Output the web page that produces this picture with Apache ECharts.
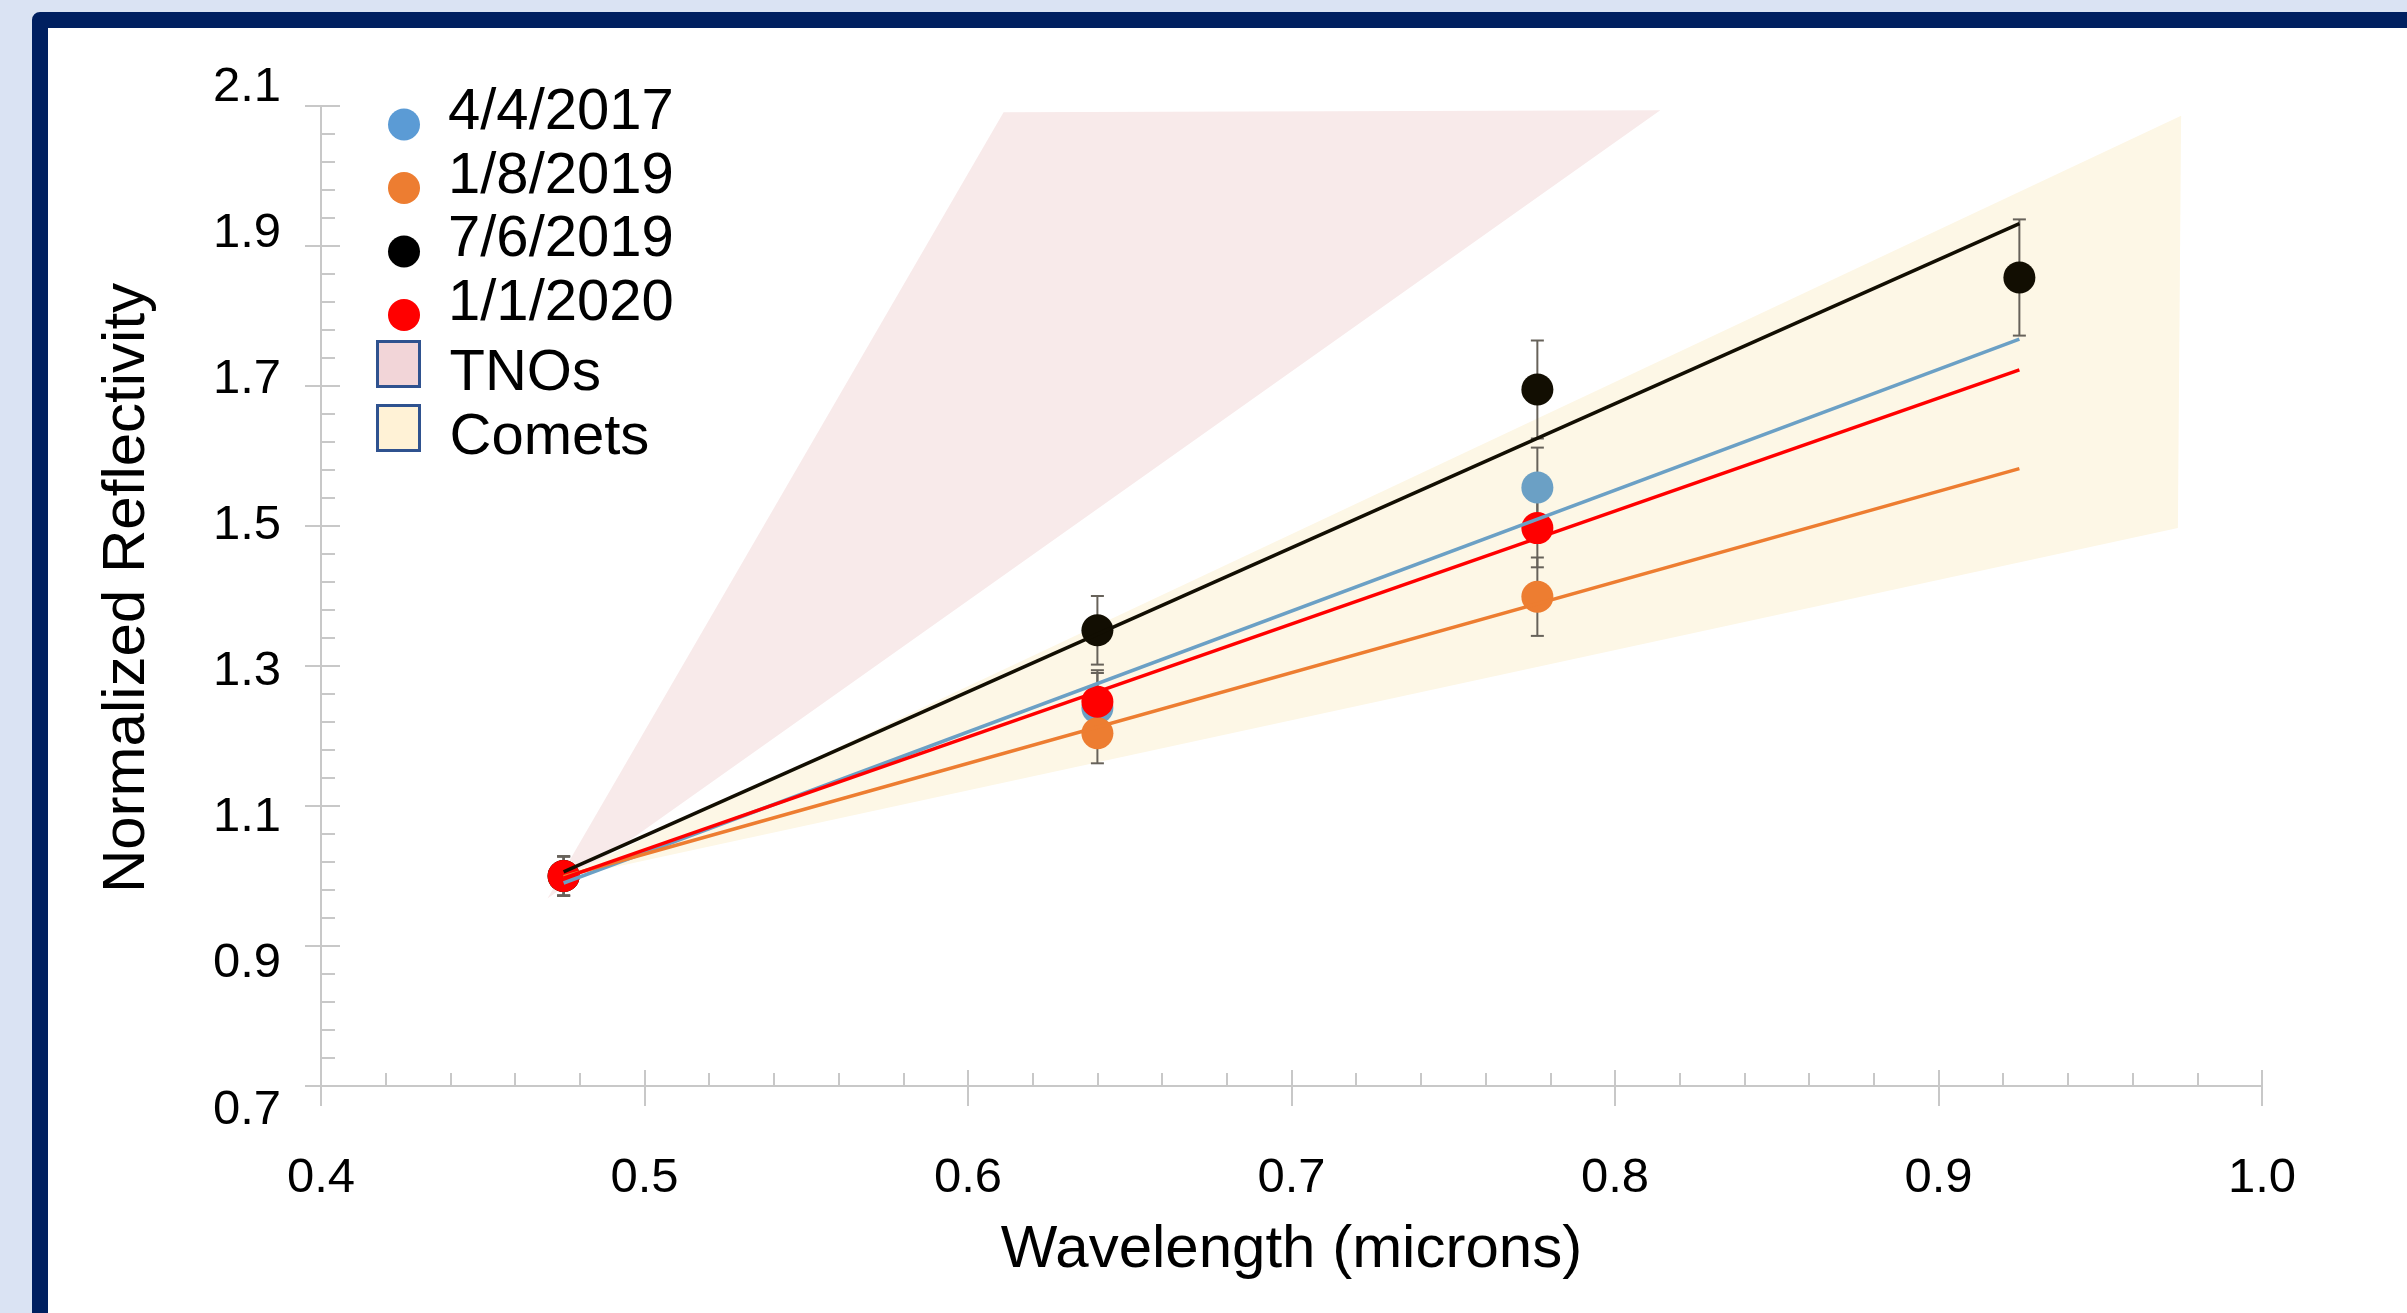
<!DOCTYPE html>
<html>
<head>
<meta charset="utf-8">
<title>Normalized Reflectivity</title>
<script src="https://cdn.jsdelivr.net/npm/echarts@6.0.0/dist/echarts.min.js"></script>
<style>
html, body { margin: 0; padding: 0; width: 2407px; height: 1313px; overflow: hidden; background: #dae3f3; }
#frame { position: absolute; left: 32px; top: 12px; width: 2440px; height: 1360px; border: 16px solid #002060; border-radius: 8px; background: #fff; }
#chart { position: absolute; left: 0; top: 0; width: 2407px; height: 1313px; }
</style>
</head>
<body>
<div id="frame"></div>
<div id="chart"></div>
<script>
// wavelengths of the filters (microns)
var wavelengths = [0.475, 0.64, 0.776, 0.925];
var dates = ['4/4/2017', '1/8/2019', '7/6/2019', '1/1/2020'];

// normalized reflectivity + error per date
var refl2017 = [1.0, 1.240, 1.555];
var err2017 = [0.028, 0.050, 0.057];
var refl2019a = [1.0, 1.204, 1.399];
var err2019a = [0.028, 0.043, 0.056];
var refl2019b = [1.0, 1.351, 1.695, 1.855];
var err2019b = [0.028, 0.049, 0.070, 0.083];
var refl2020 = [1.0, 1.249, 1.497];
var err2020 = [0.028, 0.045, 0.056];

// linear fits, value at first and last wavelength
var fitX = [0.475, 0.925];
var fit2017 = [0.990, 1.767];
var fit2019a = [0.999, 1.582];
var fit2019b = [1.006, 1.932];
var fit2020 = [0.997, 1.723];

// TNO and comet colour ranges (polygon corners)
var tnoX = [0.470, 0.611, 0.814];
var tnoY = [0.968, 2.091, 2.094];
var cometX = [0.473, 0.975, 0.974];
var cometY = [0.995, 2.086, 1.497];

// axis ticks
var yTicks = [0.7, 0.9, 1.1, 1.3, 1.5, 1.7, 1.9, 2.1];
var yMinor = [];
for (var i = 0; i < yTicks.length - 1; i++) {
    for (var k = 1; k < 5; k++) {
        yMinor.push(+(yTicks[i] + (yTicks[i + 1] - yTicks[i]) * k / 5).toFixed(3));
    }
}

var font = 'Liberation Sans';
var axisGrey = '#c8c8c8';

var sets = [
    {name: dates[0], y: refl2017, err: err2017, fit: fit2017, color: '#6ba0c5', icon: '#5b9bd5'},
    {name: dates[1], y: refl2019a, err: err2019a, fit: fit2019a, color: '#ed7d31', icon: '#ed7d31'},
    {name: dates[2], y: refl2019b, err: err2019b, fit: fit2019b, color: '#120e02', icon: '#000000'},
    {name: dates[3], y: refl2020, err: err2020, fit: fit2020, color: '#ff0000', icon: '#ff0000'}
];

// polygon drawn once from all its corners
function polygonItem(xs, ys) {
    return function (params, api) {
        if (params.dataIndex !== 0) return;
        var pts = xs.map(function (x, i) { return api.coord([x, ys[i]]); });
        return {type: 'polygon', shape: {points: pts}, style: {fill: api.visual('color')}};
    };
}

// vertical error bar with caps
function errorItem(params, api) {
    var x = api.value(0);
    var lo = api.coord([x, api.value(1)]);
    var hi = api.coord([x, api.value(2)]);
    var w = 6.5;
    var st = {stroke: '#67625a', lineWidth: 2};
    return {
        type: 'group',
        children: [
            {type: 'line', shape: {x1: hi[0], y1: hi[1], x2: lo[0], y2: lo[1]}, style: st},
            {type: 'line', shape: {x1: hi[0] - w, y1: hi[1], x2: hi[0] + w, y2: hi[1]}, style: st},
            {type: 'line', shape: {x1: lo[0] - w, y1: lo[1], x2: lo[0] + w, y2: lo[1]}, style: st}
        ]
    };
}

var series = [
    {
        name: 'TNOs', type: 'custom', silent: true,
        itemStyle: {color: '#f8eaea'},
        data: tnoX.map(function (x, i) { return [x, tnoY[i]]; }),
        encode: {x: 0, y: 1},
        renderItem: polygonItem(tnoX, tnoY)
    },
    {
        name: 'Comets', type: 'custom', silent: true,
        itemStyle: {color: '#fdf7e6'},
        data: cometX.map(function (x, i) { return [x, cometY[i]]; }),
        encode: {x: 0, y: 1},
        renderItem: polygonItem(cometX, cometY)
    }
];

// fit lines first, then error bars and dots
sets.forEach(function (s) {
    series.push({
        name: s.name, type: 'line', showSymbol: false, silent: true,
        lineStyle: {color: s.color, width: 3.5},
        itemStyle: {color: s.color},
        data: fitX.map(function (x, i) { return [x, s.fit[i]]; })
    });
});
sets.forEach(function (s) {
    series.push({
        name: s.name, type: 'custom', silent: true,
        itemStyle: {color: s.color},
        data: s.y.map(function (v, i) { return [wavelengths[i], v - s.err[i], v + s.err[i]]; }),
        encode: {x: 0, y: [1, 2]},
        renderItem: errorItem
    });
    series.push({
        name: s.name, type: 'scatter', symbolSize: 32,
        itemStyle: {color: s.color, opacity: 1},
        emphasis: {disabled: true},
        data: s.y.map(function (v, i) { return [wavelengths[i], v]; })
    });
});

var chart = echarts.init(document.getElementById('chart'));
var option = {
    animation: false,
    textStyle: {fontFamily: font},
    grid: [
        {left: 321, top: 106, width: 1941, height: 980},
        // only carries the y tick labels
        {left: 321, top: 87, width: 1941, height: 1023}
    ],
    legend: [
        {
            orient: 'vertical', left: 388, top: 84, padding: 0, itemGap: 0,
            itemWidth: 32, itemHeight: 32, selectedMode: false,
            data: sets.map(function (s) { return {name: s.name, icon: 'circle', itemStyle: {color: s.icon}}; }),
            // empty line under the name lifts the text above the dot
            formatter: function (name) { return '{a|' + name + '}\n{s| }'; },
            textStyle: {
                padding: [0, 0, 0, 23],
                rich: {
                    a: {fontSize: 58, lineHeight: 36, color: '#000', fontFamily: font},
                    s: {fontSize: 10, lineHeight: 23}
                }
            }
        },
        {
            orient: 'vertical', left: 376, top: 339, padding: 0, itemGap: 0,
            itemWidth: 42, itemHeight: 45, selectedMode: false,
            data: [
                {name: 'TNOs', icon: 'rect', itemStyle: {color: '#f2d5d8', borderColor: '#2f528f', borderWidth: 3}},
                {name: 'Comets', icon: 'rect', itemStyle: {color: '#fff2d6', borderColor: '#2f528f', borderWidth: 3}}
            ],
            formatter: function (name) { return '{s| }\n{a|' + name + '}'; },
            textStyle: {
                padding: [0, 0, 0, 25],
                rich: {
                    a: {fontSize: 58, lineHeight: 40, color: '#000', fontFamily: font},
                    s: {fontSize: 10, lineHeight: 20}
                }
            }
        }
    ],
    xAxis: [
        {
            type: 'value', gridIndex: 0, position: 'bottom', min: 0.4, max: 1.0, interval: 0.1,
            axisLine: {show: true, lineStyle: {color: axisGrey, width: 2}},
            axisTick: {show: true, inside: true, length: 16, lineStyle: {color: axisGrey, width: 2}},
            minorTick: {show: true, splitNumber: 5, length: 13, lineStyle: {color: axisGrey, width: 2}},
            axisLabel: {margin: 68, fontSize: 49, color: '#000', fontFamily: font,
                formatter: function (v) { return v.toFixed(1); }},
            splitLine: {show: false},
            name: 'Wavelength (microns)', nameLocation: 'middle', nameGap: 134,
            nameTextStyle: {fontSize: 60, color: '#000', fontFamily: font}
        },
        {
            type: 'value', gridIndex: 0, position: 'bottom', min: 0.4, max: 1.0, interval: 0.1,
            axisLine: {show: false},
            axisTick: {show: true, length: 20, lineStyle: {color: axisGrey, width: 2}},
            axisLabel: {show: false},
            splitLine: {show: false}
        },
        {type: 'value', gridIndex: 1, min: 0.4, max: 1.0, show: false}
    ],
    yAxis: [
        {
            type: 'value', gridIndex: 0, position: 'left', min: 0.7, max: 2.1,
            axisLine: {show: true, lineStyle: {color: axisGrey, width: 2}},
            axisTick: {show: true, inside: true, length: 19, customValues: yTicks, lineStyle: {color: axisGrey, width: 2}},
            axisLabel: {show: false},
            splitLine: {show: false},
            name: 'Normalized Reflectivity', nameLocation: 'middle', nameGap: 164, nameRotate: 90,
            nameTextStyle: {fontSize: 60, color: '#000', fontFamily: font, padding: [0, 0, 0, 16]}
        },
        {
            type: 'value', gridIndex: 0, position: 'left', min: 0.7, max: 2.1,
            axisLine: {show: false},
            axisTick: {show: true, length: 16, customValues: yTicks, lineStyle: {color: axisGrey, width: 2}},
            axisLabel: {show: false},
            splitLine: {show: false}
        },
        {
            type: 'value', gridIndex: 0, position: 'left', min: 0.7, max: 2.1,
            axisLine: {show: false},
            axisTick: {show: true, inside: true, length: 14, customValues: yMinor, lineStyle: {color: axisGrey, width: 2}},
            axisLabel: {show: false},
            splitLine: {show: false}
        },
        {
            type: 'value', gridIndex: 1, position: 'left', min: 0.7, max: 2.1,
            axisLine: {show: false},
            axisTick: {show: false},
            axisLabel: {margin: 40, fontSize: 49, color: '#000', fontFamily: font, customValues: yTicks,
                formatter: function (v) { return v.toFixed(1); }},
            splitLine: {show: false}
        }
    ],
    series: series
};
chart.setOption(option);
</script>
</body>
</html>
